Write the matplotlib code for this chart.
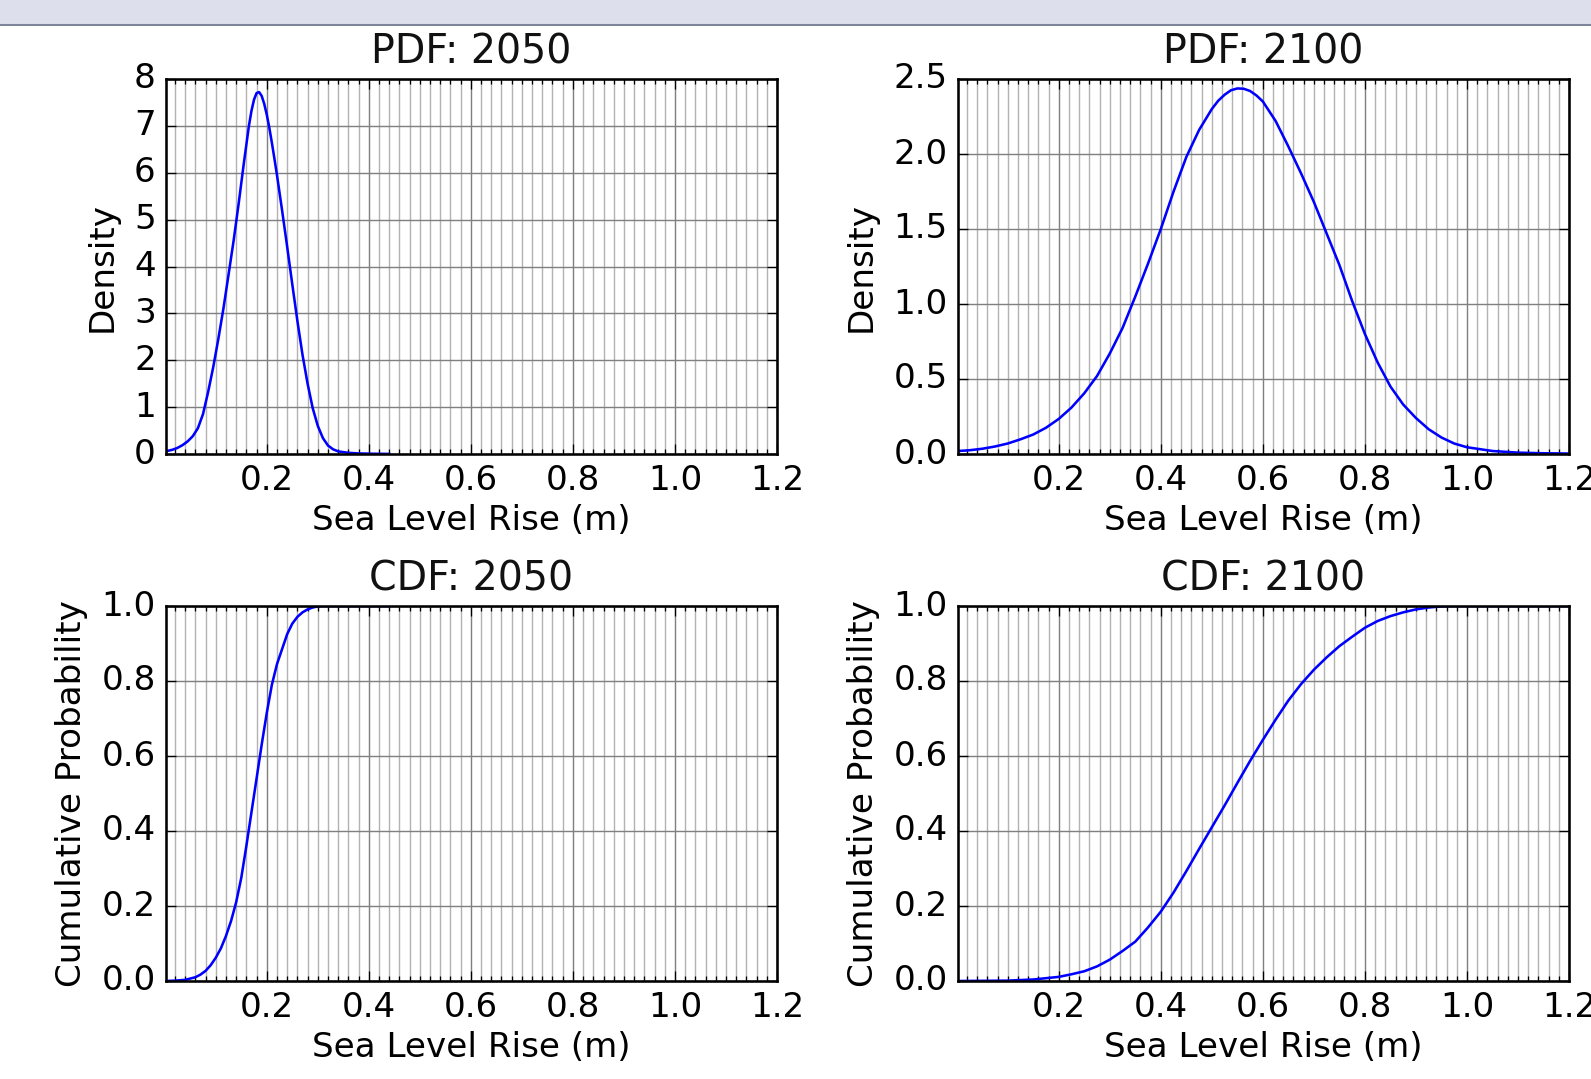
import matplotlib
matplotlib.use('Agg')
import matplotlib.pyplot as plt
from matplotlib.ticker import MultipleLocator
from matplotlib.patches import Rectangle
from matplotlib.lines import Line2D

# values
pdf_2050_x = [0.003, 0.015, 0.025, 0.035, 0.045, 0.055, 0.065, 0.075, 0.085, 0.095,
              0.105, 0.115, 0.125, 0.135, 0.145, 0.155, 0.16, 0.165, 0.17, 0.175,
              0.18, 0.185, 0.19, 0.195, 0.20, 0.205, 0.21, 0.215, 0.22, 0.23,
              0.24, 0.25, 0.26, 0.27, 0.28, 0.29, 0.30, 0.31, 0.32, 0.33,
              0.34, 0.36, 0.38, 0.41, 0.44]
pdf_2050_y = [0.06, 0.09, 0.13, 0.19, 0.27, 0.38, 0.55, 0.85, 1.32, 1.85,
              2.45, 3.10, 3.82, 4.55, 5.35, 6.20, 6.60, 7.00, 7.32, 7.56,
              7.70, 7.72, 7.64, 7.47, 7.24, 6.96, 6.64, 6.30, 5.95, 5.20,
              4.42, 3.62, 2.84, 2.12, 1.50, 0.98, 0.60, 0.34, 0.18, 0.10,
              0.055, 0.025, 0.012, 0.005, 0.002]

pdf_2100_x = [0.003, 0.025, 0.05, 0.075, 0.1, 0.125, 0.15, 0.175, 0.2, 0.225,
              0.25, 0.275, 0.3, 0.325, 0.35, 0.375, 0.4, 0.425, 0.45, 0.475,
              0.5, 0.5125, 0.525, 0.5375, 0.55, 0.5625, 0.575, 0.5875, 0.6, 0.625,
              0.65, 0.675, 0.7, 0.725, 0.75, 0.775, 0.8, 0.825, 0.85, 0.875,
              0.9, 0.925, 0.95, 0.975, 1.0, 1.05, 1.1, 1.15, 1.2]
pdf_2100_y = [0.020, 0.025, 0.035, 0.05, 0.07, 0.098, 0.13, 0.175, 0.234, 0.31,
              0.405, 0.52, 0.67, 0.84, 1.05, 1.27, 1.50, 1.75, 1.98, 2.16,
              2.30, 2.355, 2.395, 2.425, 2.437, 2.435, 2.42, 2.39, 2.35, 2.22,
              2.05, 1.87, 1.68, 1.47, 1.26, 1.02, 0.80, 0.61, 0.45, 0.33,
              0.24, 0.165, 0.11, 0.07, 0.045, 0.02, 0.009, 0.005, 0.003]

cdf_2050_x = [0.003, 0.02, 0.04, 0.06, 0.07, 0.08, 0.09, 0.10, 0.11, 0.12,
              0.13, 0.14, 0.15, 0.16, 0.17, 0.18, 0.19, 0.20, 0.21, 0.22,
              0.23, 0.24, 0.25, 0.26, 0.27, 0.28, 0.29, 0.30, 0.31, 0.44]
cdf_2050_y = [0.0, 0.001, 0.003, 0.01, 0.017, 0.027, 0.042, 0.062, 0.087, 0.12,
              0.16, 0.21, 0.275, 0.36, 0.45, 0.54, 0.63, 0.715, 0.79, 0.845,
              0.885, 0.925, 0.953, 0.971, 0.983, 0.991, 0.996, 0.999, 1.0, 1.0]

cdf_2100_x = [0.003, 0.1, 0.15, 0.2, 0.225, 0.25, 0.275, 0.3, 0.325, 0.35,
              0.375, 0.4, 0.425, 0.45, 0.475, 0.5, 0.525, 0.55, 0.575, 0.6,
              0.625, 0.65, 0.675, 0.7, 0.725, 0.75, 0.775, 0.8, 0.825, 0.85,
              0.875, 0.9, 0.925, 0.95, 0.975, 1.2]
cdf_2100_y = [0.0, 0.001, 0.004, 0.011, 0.018, 0.026, 0.039, 0.057, 0.08, 0.105,
              0.143, 0.185, 0.236, 0.293, 0.352, 0.41, 0.468, 0.528, 0.587, 0.643,
              0.697, 0.748, 0.792, 0.83, 0.863, 0.893, 0.918, 0.942, 0.96, 0.973,
              0.983, 0.991, 0.996, 0.999, 1.0, 1.0]

panels = [
    ('PDF: 2050', 'Density', pdf_2050_x, pdf_2050_y, (0, 8), 1.0),
    ('PDF: 2100', 'Density', pdf_2100_x, pdf_2100_y, (0, 2.5), 0.5),
    ('CDF: 2050', 'Cumulative Probability', cdf_2050_x, cdf_2050_y, (0, 1), 0.2),
    ('CDF: 2100', 'Cumulative Probability', cdf_2100_x, cdf_2100_y, (0, 1), 0.2),
]

plt.style.use('classic')
plt.rcParams['font.size'] = 13.3
plt.rcParams['text.color'] = '#111111'

W, H = 1591, 1079
fig = plt.figure(figsize=(W / 185, H / 185), dpi=185, facecolor='white')

# window title band of the screenshot
fig.patches.append(Rectangle((0, 1 - 24 / H), 1, 24 / H, transform=fig.transFigure,
                             facecolor='#dde0ec', edgecolor='none', zorder=-1))
fig.lines.append(Line2D([0, 1], [1 - 25 / H, 1 - 25 / H], transform=fig.transFigure,
                        color='#7d8598', lw=0.8))

lefts = [166 / W, 958 / W]
bottoms = [1 - 454 / H, 1 - 981 / H]
w = 611 / W
h = 375 / H

for i, (title, ylab, xs, ys, ylim, ystep) in enumerate(panels):
    ax = fig.add_axes([lefts[i % 2], bottoms[i // 2], w, h])
    ax.plot(xs, ys, color='b', lw=1.0)
    ax.set_xlim(0.0025, 1.2)
    ax.set_ylim(*ylim)
    ax.xaxis.set_major_locator(MultipleLocator(0.2))
    ax.xaxis.set_minor_locator(MultipleLocator(0.02))
    ax.yaxis.set_major_locator(MultipleLocator(ystep))
    ax.grid(which='major', color='0.5', linestyle='-', lw=0.55)
    ax.grid(which='minor', axis='x', color='0.7', linestyle='-', lw=0.55)
    ax.set_axisbelow(True)
    ax.set_title(title, fontsize=15.4, pad=6.2)
    ax.set_xlabel('Sea Level Rise (m)', labelpad=2.6)
    ax.set_ylabel(ylab, labelpad=6.0 if i < 2 else 5)

fig.savefig('out.png', dpi=185, facecolor='white')
